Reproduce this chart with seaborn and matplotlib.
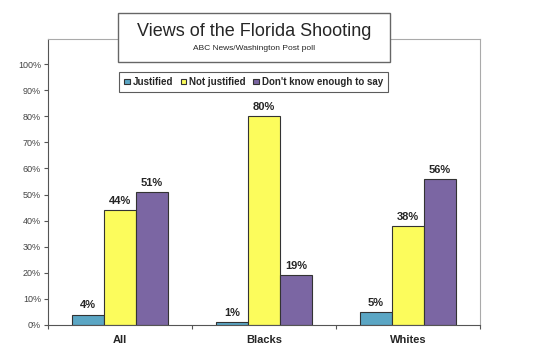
import pandas as pd
import seaborn as sns
import matplotlib.pyplot as plt
from matplotlib.patches import Rectangle
from matplotlib.ticker import FuncFormatter

# chart data
groups = ['All', 'Blacks', 'Whites']
answers = ['Justified', 'Not justified', "Don't know enough to say"]
justified = [4, 1, 5]
not_justified = [44, 80, 38]
dont_know = [51, 19, 56]
colors = ['#5ba6c4', '#fcfc5c', '#7b66a3']

df = pd.DataFrame({
    'group': groups * 3,
    'answer': [answers[0]] * 3 + [answers[1]] * 3 + [answers[2]] * 3,
    'pct': justified + not_justified + dont_know,
})

sns.set_style('white')
plt.rcParams['font.family'] = ['Liberation Sans', 'DejaVu Sans']

fig = plt.figure(figsize=(5.5, 3.54), dpi=100)
ax = fig.add_axes([48 / 550, 29 / 354, 432 / 550, 286 / 354])

sns.barplot(data=df, x='group', y='pct', hue='answer', hue_order=answers,
            order=groups, palette=colors, width=0.667, gap=0,
            edgecolor='#333333', linewidth=0.8, ax=ax, saturation=1)

for cont in ax.containers:
    ax.bar_label(cont, labels=[f'{v:.0f}%' for v in cont.datavalues],
                 padding=3, fontsize=8, fontweight='bold')

ax.set_ylim(0, 109.6)
ax.set_xlim(-0.5, 2.5)
ax.set_yticks(range(0, 101, 10))
ax.yaxis.set_major_formatter(FuncFormatter(lambda v, p: f'{v:.0f}%'))
ax.tick_params(axis='y', labelsize=6.5, labelcolor='#444444', length=3,
               width=0.8, color='#555555', direction='out', left=True, pad=2)
ax.set_xticks([0, 1, 2])
ax.set_xticklabels(groups, fontsize=8, fontweight='bold')
ax.tick_params(axis='x', length=0, pad=7)
ax.set_xticks([-0.5, 0.5, 1.5, 2.5], minor=True)
ax.tick_params(axis='x', which='minor', length=3, width=0.8,
               color='#555555', direction='out', bottom=True)
ax.set_xlabel('')
ax.set_ylabel('')

for side in ['top', 'right']:
    ax.spines[side].set_color('#aaaaaa')
    ax.spines[side].set_linewidth(0.8)
for side in ['left', 'bottom']:
    ax.spines[side].set_color('#555555')
    ax.spines[side].set_linewidth(0.8)

leg = ax.legend(loc='center', bbox_to_anchor=(0.476, 0.85), ncol=3,
                frameon=True, fancybox=False, edgecolor='#333333',
                fontsize=7, handlelength=0.55, handleheight=0.55,
                handletextpad=0.3, columnspacing=0.8, borderpad=0.55,
                borderaxespad=0)
for t in leg.get_texts():
    t.set_fontweight('bold')
leg.get_frame().set_linewidth(0.8)

# title box
fig.patches.append(Rectangle((118 / 550, 1 - 62 / 354), 272 / 550, 49 / 354,
                             transform=fig.transFigure, facecolor='white',
                             edgecolor='#666666', linewidth=1.0, zorder=5))
fig.text(254 / 550, 1 - 31 / 354, 'Views of the Florida Shooting',
         ha='center', va='center', fontsize=13, zorder=6)
fig.text(254 / 550, 1 - 48 / 354, 'ABC News/Washington Post poll',
         ha='center', va='center', fontsize=6, zorder=6)

fig.savefig('out.png', dpi=100)
